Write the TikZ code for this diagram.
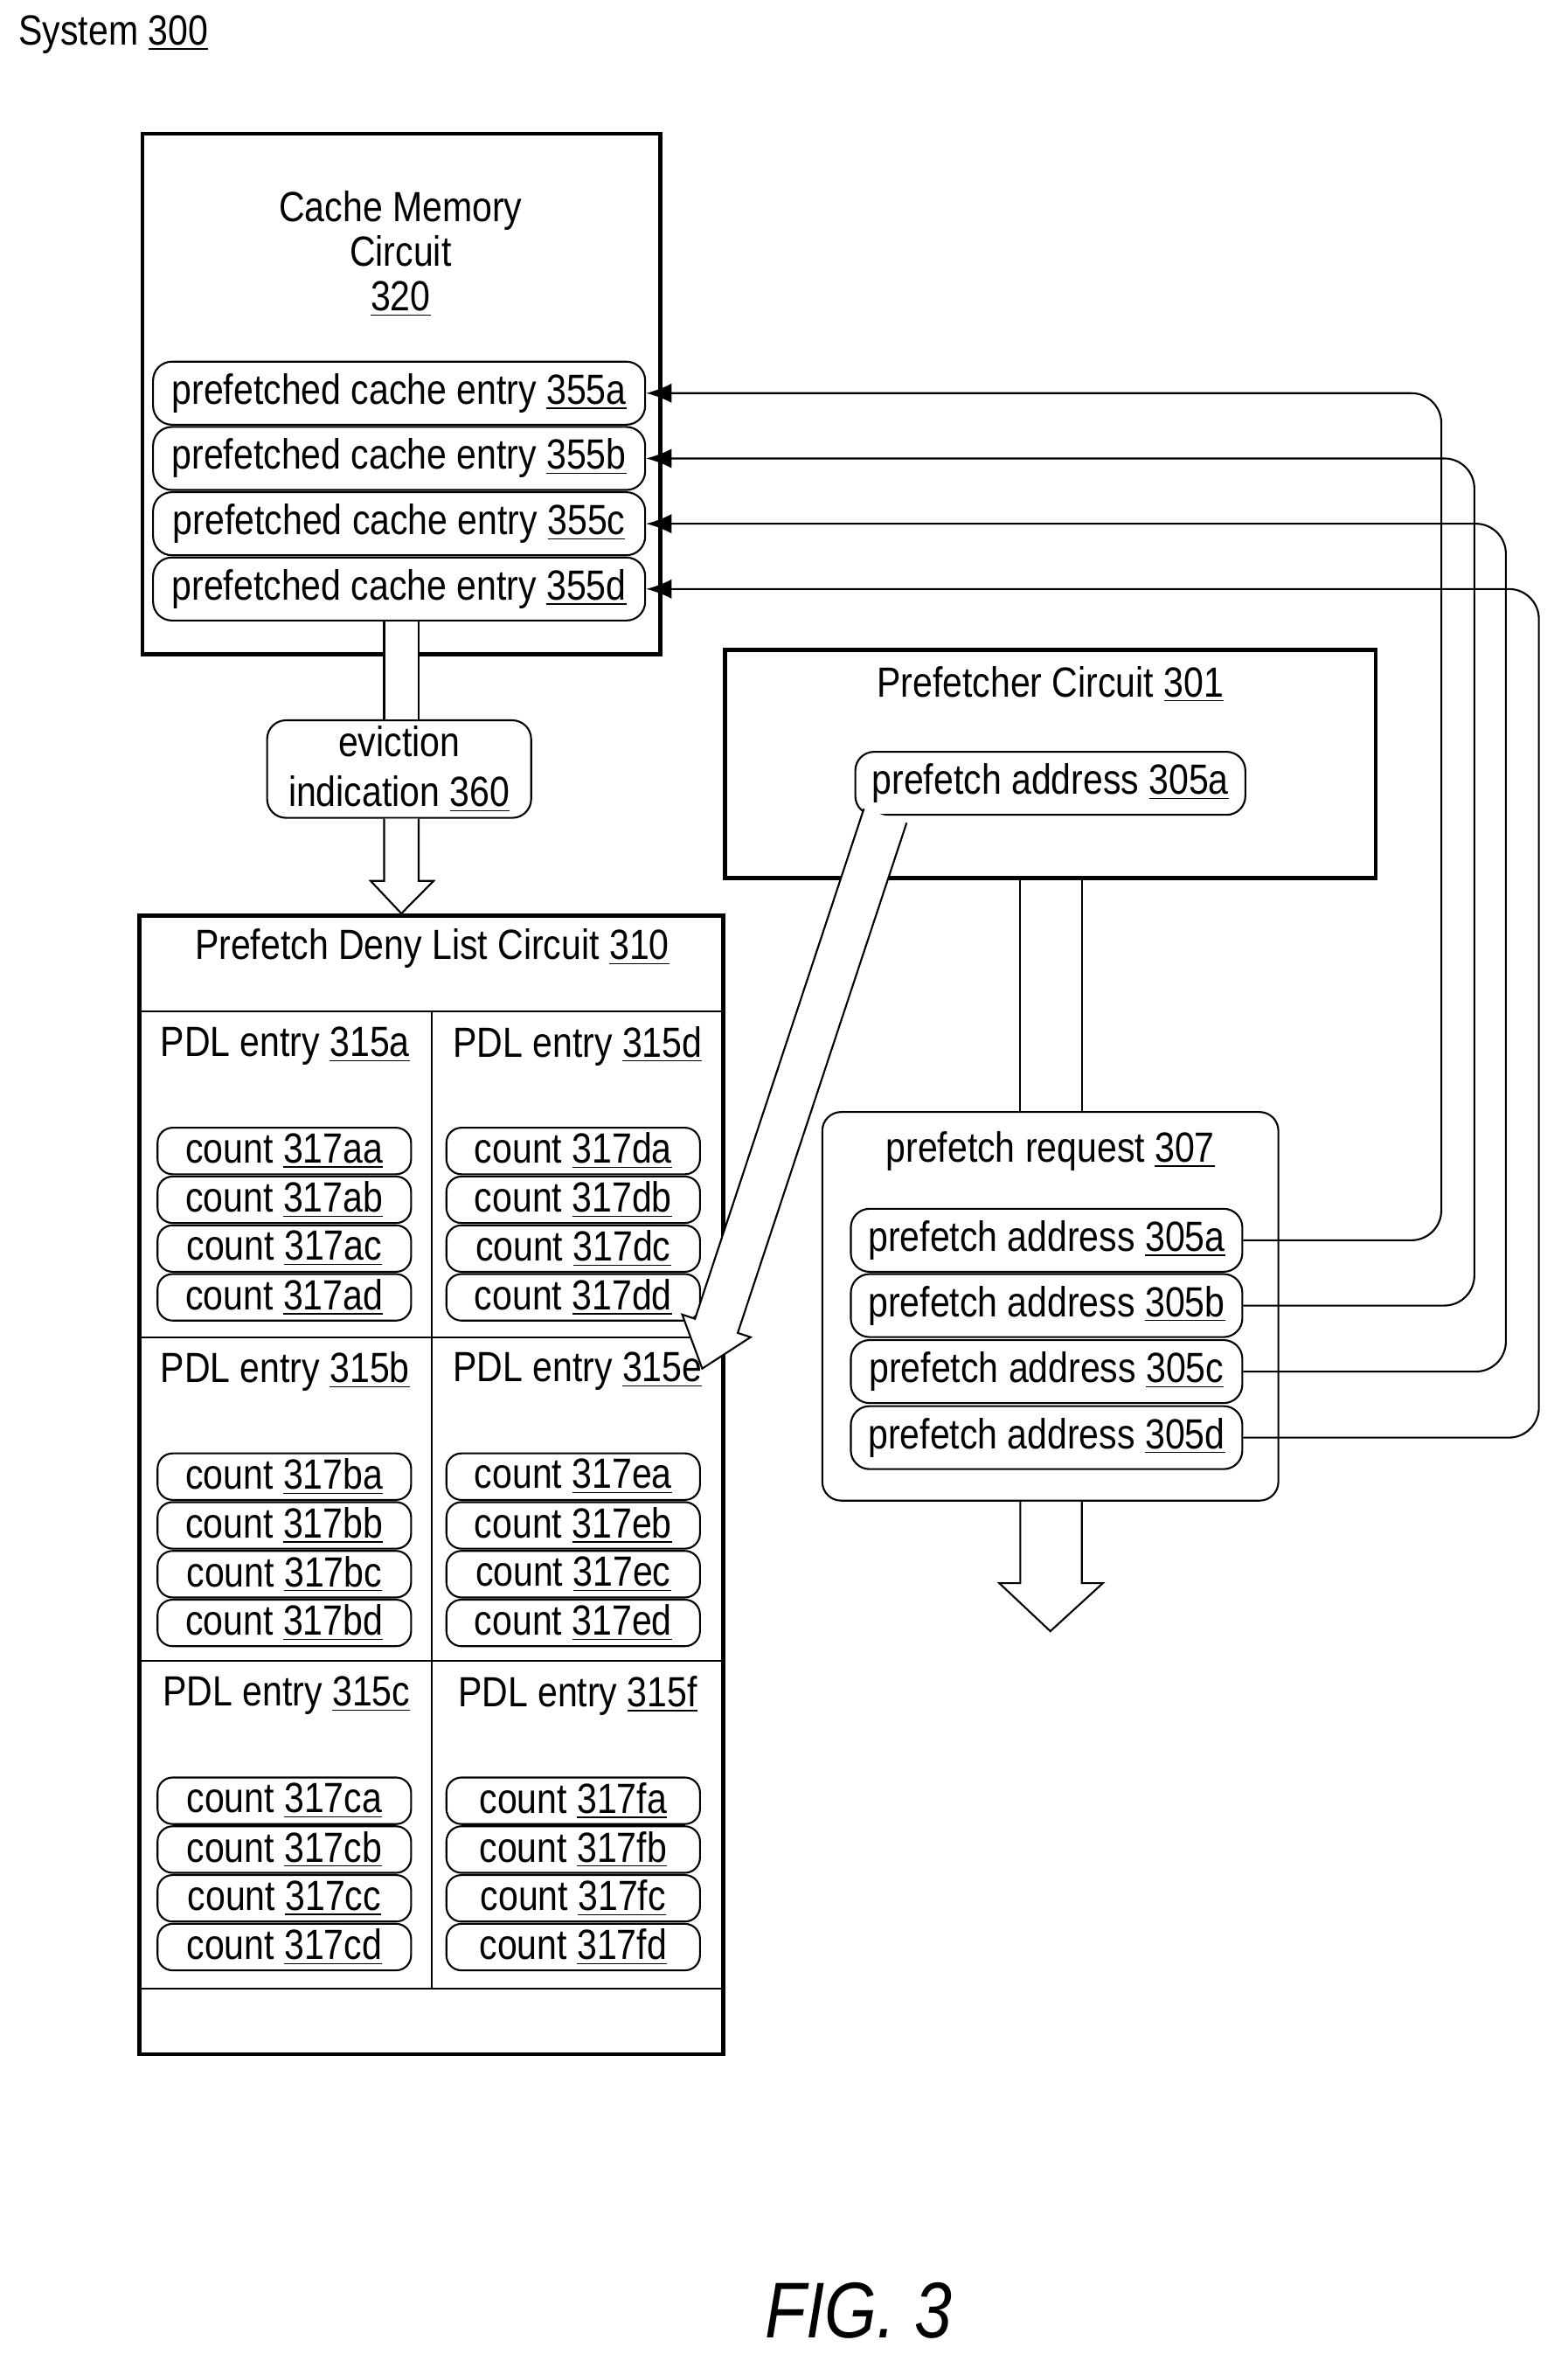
\documentclass[tikz,border=0pt]{standalone}
\usepackage{fontspec}
\setmainfont{Liberation Sans}[FakeStretch=0.85]
\usetikzlibrary{arrows.meta,positioning,calc}
\newcommand{\refnum}[1]{\underline{#1}}
\tikzset{block/.style={
		% outer circuit boxes
		draw=black,
		line width=1.5pt,
		inner sep=0pt,
}}
\tikzset{entry/.style={
		% small rounded entries
		draw=black,
		line width=0.7pt,
		rounded corners=2.5mm,
		inner sep=0pt,
		minimum height=0.84cm,
}}
\tikzset{cnt/.style={
		draw=black,
		line width=0.7pt,
		rounded corners=2mm,
		inner sep=0pt,
		minimum height=0.62cm,
		minimum width=3.38cm,
}}

\begin{document}
\begin{tikzpicture}[
	x=0.02cm, y=-0.02cm,
	>={Latex[length=3.4mm,width=2.6mm]},
	font=\fontsize{16}{17}\selectfont,
	line width=0.7pt,
	conn/.style={->, line width=0.7pt, rounded corners=0.4cm},
	]
	\useasboundingbox (0,0) rectangle (1045,1578);
	
	%% title
	\node (sys) [anchor=west] at (6,23) {System \refnum{300}};
	
	%% cache memory circuit
	\node (cache)[block, minimum width=6.9cm, minimum height=6.94cm] at (267.5,262.5) {};
	\node (cachet) [align=center] at (267,169) {Cache Memory\\Circuit\\\refnum{320}};
	\node (cea)[entry, minimum width=6.56cm] at (266,262) {prefetched cache entry \refnum{355a}};
	\node (ceb)[entry, minimum width=6.56cm] at (266,305.5) {prefetched cache entry \refnum{355b}};
	\node (cec)[entry, minimum width=6.56cm] at (266,349) {prefetched cache entry \refnum{355c}};
	\node (ced)[entry, minimum width=6.56cm] at (266,392.5) {prefetched cache entry \refnum{355d}};
	
	%% eviction indication
	\node (evict)[entry, minimum width=3.52cm, minimum height=1.3cm, align=center] at (266,512.5) {eviction\\[2pt]indication \refnum{360}};
	\path[fill=white] (ced.south -| 256,0) rectangle (evict.north -| 279,0);
	\draw (ced.south -| 256,0) -- (evict.north -| 256,0);
	\draw (ced.south -| 279,0) -- (evict.north -| 279,0);
	
	%% prefetch deny list circuit
	\node (pdl)[block, minimum width=7.78cm, minimum height=15.18cm] at (287.5,989.5) {};
	\node (pdlt) at (288,632) {Prefetch Deny List Circuit \refnum{310}};
	\draw[fill=white] (evict.south -| 256,0) -- (256,587) -- (247,587) -- (pdl.north -| 267.5,0) -- (289,587) -- (279,587) -- (evict.south -| 279,0);
	\draw (pdl.west |- 0,674) -- (pdl.east |- 0,674);
	\draw (pdl.west |- 0,891) -- (pdl.east |- 0,891);
	\draw (pdl.west |- 0,1107) -- (pdl.east |- 0,1107);
	\draw (pdl.west |- 0,1325) -- (pdl.east |- 0,1325);
	\draw (288,674) -- (288,1325);
	
	%% PDL entries
	\foreach \e/\x/\y in {a/190/697, d/385/697, b/190/914, e/385/914, c/191/1130, f/385/1130}{
		\node (pdl\e) at (\x,\y) {PDL entry \refnum{315\e}};
	}
	\foreach \e/\x/\y in {a/189.5/767, d/382/767, b/189.5/984, e/382/984, c/189.5/1200, f/382/1200}{
		\foreach \k [count=\i from 0] in {a,b,c,d}{
			\node (cnt\e\k)[cnt] at (\x,\y+32.5*\i) {count \refnum{317\e\k}};
		}
	}
	
	%% prefetcher circuit
	\node (pf)[block, minimum width=8.68cm, minimum height=3.04cm] at (700,509) {};
	\node (pft) at (700,456) {Prefetcher Circuit \refnum{301}};
	\node (pfa)[entry, minimum width=5.2cm] at (700,522) {prefetch address \refnum{305a}};
	
	%% prefetch request
	\node (req)[draw=black, rounded corners=2.5mm, minimum width=6.08cm, minimum height=5.18cm] at (700,870.5) {};
	\node (reqt) at (700,767) {prefetch request \refnum{307}};
	\node (ra)[entry, minimum width=5.22cm] at (697.5,826.5) {prefetch address \refnum{305a}};
	\node (rb)[entry, minimum width=5.22cm] at (697.5,870) {prefetch address \refnum{305b}};
	\node (rc)[entry, minimum width=5.22cm] at (697.5,914) {prefetch address \refnum{305c}};
	\node (rd)[entry, minimum width=5.22cm] at (697.5,958) {prefetch address \refnum{305d}};
	\draw (pf.south -| 680,0) -- (req.north -| 680,0);
	\draw (pf.south -| 721,0) -- (req.north -| 721,0);
	\draw[fill=white] (req.south -| 680,0) -- (680,1055) -- (666,1055) -- (700,1087) -- (735,1055) -- (721,1055) -- (req.south -| 721,0);
	
	%% diagonal arrow to PDL entry 315e
	\coordinate (ds) at (pfa.south -| 590,0);
	\coordinate (dt) at (468,912);
	\coordinate (dn) at ($(dt)!0.6cm!(ds)$);
	\draw[fill=white] ($(ds)!0.3cm!90:(dt)$) -- ($(dn)!0.3cm!-90:(ds)$) -- ($(dn)!0.48cm!-90:(ds)$) -- (dt) -- ($(dn)!0.48cm!90:(ds)$) -- ($(dn)!0.3cm!90:(ds)$) -- ($(ds)!0.3cm!-90:(dt)$);
	
	%% addresses to cache entries
	\draw[conn] (ra.east) -- ++(132,0) |- (cea.east);
	\draw[conn] (rb.east) -- ++(154,0) |- (ceb.east);
	\draw[conn] (rc.east) -- ++(175,0) |- (cec.east);
	\draw[conn] (rd.east) -- ++(197,0) |- (ced.east);
	
	\node (fig) at (572,1540) {\fontsize{30}{32}\selectfont\itshape FIG. 3};
\end{tikzpicture}
\end{document}
